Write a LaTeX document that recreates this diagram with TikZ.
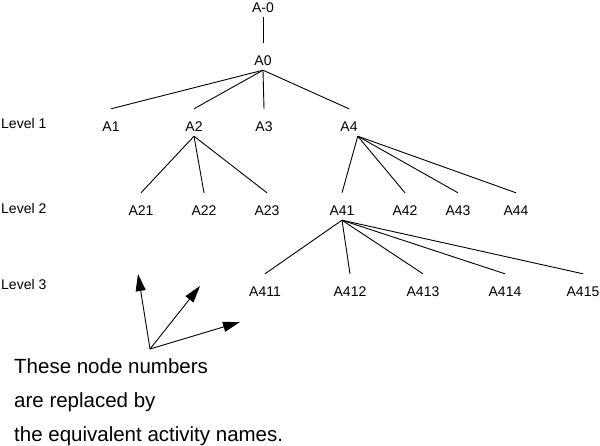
\documentclass[tikz,border=0pt]{standalone}
\usepackage{fontspec}
\setmainfont{Liberation Sans}
\usepackage{tikz}
\usetikzlibrary{arrows.meta}

\begin{document}
\begin{tikzpicture}[
    x=1pt, y=-1pt,
    every node/.style={font=\fontsize{14}{16}\selectfont},
    act/.style={anchor=base, inner sep=0pt, text height=22pt, text depth=5pt},
    lvl/.style={anchor=base west, inner sep=0pt},
    link/.style={line width=0.9pt},
    dir/.style={line width=0.9pt, -{Triangle[length=17pt, width=10pt]}},
]
    \useasboundingbox (0,0) rectangle (600,445);

    % Level labels
    \node[lvl] (lev1) at (1,128) {Level 1};
    \node[lvl] (lev2) at (1,213) {Level 2};
    \node[lvl] (lev3) at (1,289) {Level 3};

    % Root
    \node[act] (Am0) at (263,12) {A-0};
    \node[act] (A0) at (263,65) {A0};

    % Level 1
    \node[act] (A1) at (111,131) {A1};
    \node[act] (A2) at (194,131) {A2};
    \node[act] (A3) at (264,131) {A3};
    \node[act] (A4) at (349,131) {A4};

    % Level 2
    \node[act] (A21) at (141,215) {A21};
    \node[act] (A22) at (204,215) {A22};
    \node[act] (A23) at (267,215) {A23};
    \node[act] (A41) at (342,215) {A41};
    \node[act] (A42) at (405,215) {A42};
    \node[act] (A43) at (458,215) {A43};
    \node[act] (A44) at (516,215) {A44};

    % Level 3
    \node[act] (A411) at (265,296) {A411};
    \node[act] (A412) at (350,296) {A412};
    \node[act] (A413) at (423,296) {A413};
    \node[act] (A414) at (505,296) {A414};
    \node[act] (A415) at (583,296) {A415};

    % Connections
    \draw[link] (Am0.south) -- (A0.north);
    \foreach \c in {A1, A2, A3, A4}
        \draw[link] (A0.south) -- (\c.north);
    \foreach \c in {A21, A22, A23}
        \draw[link] (A2.south) -- (\c.north);
    \foreach \c in {A41, A42, A43, A44}
        \draw[link] (A4.south east) -- (\c.north);
    \foreach \c in {A411, A412, A413, A414, A415}
        \draw[link] (A41.south) -- (\c.north);

    % Direction arrows
    \coordinate (orig) at (150,349);
    \coordinate (tipup) at (138,274);
    \coordinate (tipmid) at (200,286);
    \coordinate (tipright) at (240,322);
    \draw[dir] (orig) -- (tipup);
    \draw[dir] (orig) -- (tipmid);
    \draw[dir] (orig) -- (tipright);

    % Note
    \node[anchor=north west, inner sep=0pt, align=left,
          font=\fontsize{20.5}{34}\selectfont] (note) at (14,358)
        {These node numbers\\are replaced by\\the equivalent activity names.};
\end{tikzpicture}
\end{document}
